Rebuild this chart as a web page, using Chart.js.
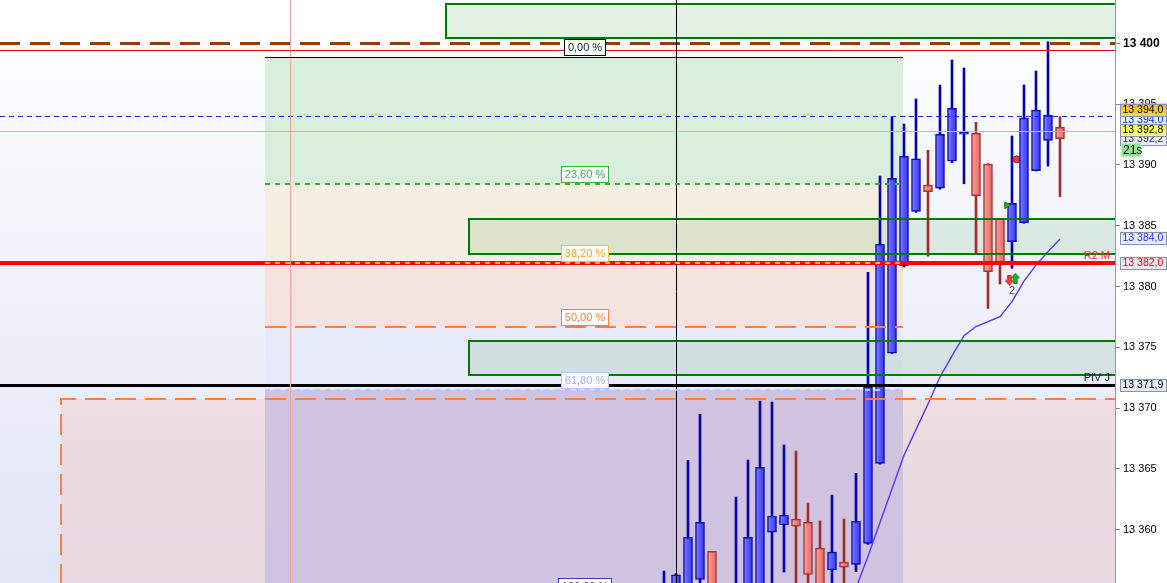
<!DOCTYPE html>
<html>
<head>
<meta charset="utf-8">
<title>Candles</title>
<script src="https://cdn.jsdelivr.net/npm/chart.js@4/dist/chart.umd.min.js"></script>
<style>
html,body{margin:0;padding:0;background:#ffffff;overflow:hidden;}
#wrap{position:relative;width:1167px;height:583px;}
</style>
</head>
<body>
<div id="wrap"><canvas id="chart"></canvas></div>
<script>
// ---------------- DATA ----------------
const candleIndex = [0,1,2,3,4,5,6,7,8,9,10,11,12,13,14,15,16,17,18,19,20,21,22,23,24,25,26,27,28,29,30,31,32,33];
const opens  = [13353.8,13355.0,13355.0,13355.92,13358.22,null,13354.5,13355.0,13355.2,13359.81,13360.39,13360.88,13360.61,13358.5,13356.69,13357.34,13357.15,13358.88,13365.46,13374.51,13381.71,13386.18,13388.35,13388.08,13390.3,13392.52,13392.6,13390.07,13385.58,13383.68,13385.25,13389.52,13392.02,13393.09];
const highs  = [13356.6,13356.4,13365.7,13369.5,13358.22,null,13362.69,13365.73,13370.58,13370.5,13366.97,13366.47,13362.2,13360.72,13362.85,13360.88,13364.64,13381.17,13389.09,13393.96,13393.36,13395.42,13391.2,13396.57,13398.63,13397.97,13393.5,13390.1,13385.6,13392.38,13396.57,13397.72,13400.13,13393.96];
const lows   = [13353.0,13354.5,13354.5,13355.0,13354.0,null,13354.0,13354.5,13354.8,13355.0,13356.52,13355.0,13355.0,13354.0,13355.0,13355.0,13356.55,13358.8,13365.4,13374.5,13381.6,13386.1,13382.5,13388.0,13390.2,13388.45,13382.75,13378.2,13380.2,13381.5,13385.2,13389.5,13389.9,13387.4];
const closes = [13355.2,13356.3,13359.37,13360.6,13354.8,null,13355.3,13359.37,13365.13,13361.13,13361.21,13360.3,13356.33,13354.5,13358.17,13356.93,13360.69,13371.76,13383.47,13388.9,13390.71,13390.49,13387.8,13392.52,13394.65,13392.68,13387.47,13381.22,13381.9,13386.84,13393.86,13394.51,13394.08,13392.15];
const maValues = [null,null,null,null,null,null,null,null,null,null,null,null,null,null,null,13352.6,13355.21,13357.81,13360.59,13363.37,13366.13,13368.23,13370.34,13372.56,13374.29,13375.95,13376.71,13377.12,13377.52,13378.76,13380.44,13381.76,13382.87,13383.91];

const yTickValues = [13360,13365,13370,13375,13380,13385,13390,13395,13400];
const yTickLabels = ["13 360","13 365","13 370","13 375","13 380","13 385","13 390","13 395","13 400"];
const xRange = [-55.333, 37.583];
const yRange = [13355.62, 13403.56];

// supply/demand zones
const zoneStart  = [-18.17, -16.25, -16.25];
const zoneTop    = [13403.23, 13385.55, 13375.52];
const zoneBottom = [13400.44, 13382.67, 13372.72];

// fibonacci retracement
const fibStart = -33.25, fibEnd = 19.92;
const fibHigh = 13398.87, fibLow = 13354.51;
const fibLevels = [0, 0.236, 0.382, 0.5, 0.618, 1];
const fibLabels = ["0,00 %","23,60 %","38,20 %","50,00 %","61,80 %","100,00 %"];
const fibLabelIndex = -6.625;

// large dashed box
const boxStart = -50.25, boxTop = 13370.77;

// horizontal levels / vertical markers
const hLineValues = [13400.0, 13399.48, 13394.0, 13392.8, 13381.97, 13371.88];
const vLineIndex = [-31.17, 1];
const levelTags = ["R2 M", "PIV J"];
const levelTagValues = [13381.97, 13371.88];

// right-axis price tags (drawn bottom-most first)
const priceTagValues = [13392.2, 13394.0, 13392.8, 13394.0, 13384.0, 13381.97, 13371.88];
const priceTagTexts  = ["13 392,2","13 394,0","13 392,8","13 394,0","13 384,0","13 382,0","13 371,9"];
const timerText = "21s";

// signal markers
const flagPoint = [{x:28.56, y:13386.68}];
const dotPoint  = [{x:29.39, y:13390.46}];
const downArrow = [{x:28.78, y:13380.53}];
const upArrow   = [{x:29.28, y:13380.67}];
const countText = "2";
const countPoint = {x:29.0, y:13379.6};

// ---------------- STYLE ----------------
const FONT = '"Liberation Sans", Arial, sans-serif';
const fibBandColors = ['#d9efdb','#f6efe2','#f4e3df','#e8ebfb','#cfc3e0'];
const fibLineStyles = [
  {c:'#000000', w:1, d:[]},
  {c:'#3cb043', w:2, d:[5,5]},
  {c:'#ffc040', w:2, d:[5,5]},
  {c:'#ff8040', w:2, d:[21,9]},
  {c:'#b4c4f8', w:2, d:[5,5]},
  {c:'#3a3ab0', w:1, d:[]}
];
const fibTextColors = ['#102040','#3cb043','#f0a820','#ff8040','#9fb2ef','#3a3ab0'];
const hLineStyles = [
  {c:'#9a3a0a', w:3, d:[20,10]},
  {c:'#dd1111', w:1, d:[]},
  {c:'#1a1aff', w:1, d:[5,4]},
  {c:'#f2a0a0', w:1, d:[]},
  {c:'#ff0000', w:4, d:[]},
  {c:'#000000', w:3, d:[]}
];
const vLineStyles = [{c:'#f2a0a0', w:1}, {c:'#000000', w:1}];
const priceTagStyles = [
  {fill:'#e6ebf5', text:'#303040', shift:0.5},
  {fill:'#e6ebf5', text:'#2020ff', shift:3.5},
  {fill:['#ffff30','#ffff90'], text:'#000000', shift:-0.5},
  {fill:['#f5b800','#ffd860'], text:'#000000', shift:-6.5},
  {fill:'#e6ebf5', text:'#3030ff', shift:0},
  {fill:'#e6ebf5', text:'#ff0000', shift:0},
  {fill:'#e6ebf5', text:'#000000', shift:0}
];

function fibPrice(l){ return fibHigh - l*(fibHigh - fibLow); }
function crisp(v, w){ return (Math.round(w) % 2 === 1) ? Math.round(v) + 0.5 : Math.round(v); }

function makeArrow(fill, stroke, down){
  const c = document.createElement('canvas'); c.width = 9; c.height = 11;
  const g = c.getContext('2d');
  g.beginPath();
  if (!down){ g.moveTo(4.5,0.5); g.lineTo(8.5,5); g.lineTo(6.2,5); g.lineTo(6.2,10.5); g.lineTo(2.8,10.5); g.lineTo(2.8,5); g.lineTo(0.5,5); }
  else { g.moveTo(4.5,10.5); g.lineTo(8.5,6); g.lineTo(6.2,6); g.lineTo(6.2,0.5); g.lineTo(2.8,0.5); g.lineTo(2.8,6); g.lineTo(0.5,6); }
  g.closePath(); g.fillStyle = fill; g.fill(); g.strokeStyle = stroke; g.lineWidth = 1; g.stroke();
  return c;
}

// ---------------- DATASETS ----------------
const bodyIdx = candleIndex.filter(i => opens[i] != null);
const bodyData = bodyIdx.map(i => ({x: candleIndex[i], y: [opens[i], closes[i]]}));
const wickData = bodyIdx.map(i => ({x: candleIndex[i], y: [lows[i], highs[i]]}));
const maData = candleIndex.filter(i => maValues[i] != null).map(i => ({x: candleIndex[i], y: maValues[i]}));
const isUp = k => closes[bodyIdx[k]] >= opens[bodyIdx[k]];

function bodyFill(c){
  if (c.type !== 'data') return '#5555ff';
  const up = isUp(c.dataIndex);
  const xs = c.chart.scales.x;
  if (!xs || !c.chart.chartArea) return up ? '#5555ff' : '#f08282';
  const px = xs.getPixelForValue(bodyData[c.dataIndex].x);
  const g = c.chart.ctx.createLinearGradient(px - 4.5, 0, px + 4.5, 0);
  if (up){ g.addColorStop(0,'#9090ff'); g.addColorStop(0.45,'#5858ff'); g.addColorStop(1,'#3a3af0'); }
  else { g.addColorStop(0,'#faaca8'); g.addColorStop(0.45,'#f08682'); g.addColorStop(1,'#e46e6a'); }
  return g;
}

// ---------------- PLUGIN ----------------
const overlays = {
  id: 'overlays',
  beforeDraw(chart){
    const {ctx, chartArea: a} = chart; const xs = chart.scales.x, ys = chart.scales.y;
    ctx.save();
    ctx.beginPath(); ctx.rect(a.left, a.top, a.right - a.left, a.bottom - a.top); ctx.clip();
    const g = ctx.createLinearGradient(0, a.top, 0, a.bottom);
    g.addColorStop(0, '#ffffff'); g.addColorStop(1, '#e1e5f6');
    ctx.fillStyle = g; ctx.fillRect(a.left, a.top, a.right - a.left, a.bottom - a.top);
    const ox = Math.round(xs.getPixelForValue(boxStart)), oy = Math.round(ys.getPixelForValue(boxTop));
    ctx.fillStyle = 'rgba(255,160,130,0.2)';
    ctx.fillRect(ox, oy, a.right - ox, a.bottom - oy);
    const fx0 = Math.round(xs.getPixelForValue(fibStart)), fx1 = Math.round(xs.getPixelForValue(fibEnd));
    for (let k = 0; k < fibLevels.length - 1; k++){
      const y0 = Math.round(ys.getPixelForValue(fibPrice(fibLevels[k])));
      const y1 = Math.round(ys.getPixelForValue(fibPrice(fibLevels[k+1])));
      ctx.fillStyle = fibBandColors[k];
      ctx.fillRect(fx0, y0, fx1 - fx0, y1 - y0);
    }
    for (let k = 0; k < zoneStart.length; k++){
      const zx = Math.round(xs.getPixelForValue(zoneStart[k]));
      const zt = Math.round(ys.getPixelForValue(zoneTop[k])), zb = Math.round(ys.getPixelForValue(zoneBottom[k]));
      ctx.fillStyle = 'rgba(0,128,0,0.1)';
      ctx.fillRect(zx, zt, a.right - zx, zb - zt);
    }
    ctx.restore();
  },
  afterDatasetsDraw(chart){
    const {ctx, chartArea: a} = chart; const xs = chart.scales.x, ys = chart.scales.y;
    ctx.save();
    ctx.beginPath(); ctx.rect(a.left, a.top, a.right - a.left, a.bottom - a.top); ctx.clip();
    ctx.setLineDash([]); ctx.strokeStyle = '#007a00'; ctx.lineWidth = 2;
    for (let k = 0; k < zoneStart.length; k++){
      const zx = Math.round(xs.getPixelForValue(zoneStart[k]));
      const zt = Math.round(ys.getPixelForValue(zoneTop[k])), zb = Math.round(ys.getPixelForValue(zoneBottom[k]));
      ctx.strokeRect(zx, zt, a.right - zx + 6, zb - zt);
    }
    const ox = Math.round(xs.getPixelForValue(boxStart)), oy = Math.round(ys.getPixelForValue(boxTop));
    ctx.strokeStyle = '#ff8040'; ctx.lineWidth = 2; ctx.setLineDash([21,9]);
    ctx.beginPath(); ctx.moveTo(ox, a.bottom + 2); ctx.lineTo(ox, oy); ctx.lineTo(a.right + 2, oy); ctx.stroke();
    hLineValues.forEach((v, k) => {
      const s = hLineStyles[k]; const y = crisp(ys.getPixelForValue(v), s.w);
      ctx.beginPath(); ctx.setLineDash(s.d); ctx.strokeStyle = s.c; ctx.lineWidth = s.w;
      ctx.moveTo(a.left, y); ctx.lineTo(a.right, y); ctx.stroke();
    });
    vLineIndex.forEach((v, k) => {
      const s = vLineStyles[k]; const x = crisp(xs.getPixelForValue(v), s.w);
      ctx.beginPath(); ctx.setLineDash([]); ctx.strokeStyle = s.c; ctx.lineWidth = s.w;
      ctx.moveTo(x, a.top); ctx.lineTo(x, a.bottom); ctx.stroke();
    });
    const fx0 = Math.round(xs.getPixelForValue(fibStart)), fx1 = Math.round(xs.getPixelForValue(fibEnd));
    fibLevels.forEach((l, k) => {
      const s = fibLineStyles[k]; const y = crisp(ys.getPixelForValue(fibPrice(l)), s.w);
      ctx.beginPath(); ctx.setLineDash(s.d); ctx.strokeStyle = s.c; ctx.lineWidth = s.w;
      ctx.moveTo(fx0, y); ctx.lineTo(fx1, y); ctx.stroke();
    });
    ctx.setLineDash([]);
    ctx.font = '11px ' + FONT; ctx.textAlign = 'center'; ctx.textBaseline = 'middle';
    const cx = xs.getPixelForValue(fibLabelIndex);
    fibLevels.forEach((l, k) => {
      const ly = Math.round(ys.getPixelForValue(fibPrice(l)));
      const tw = ctx.measureText(fibLabels[k]).width;
      const bw = Math.round(tw + 8), bx = Math.round(cx - bw / 2), by = ly - 18;
      ctx.fillStyle = '#ffffff'; ctx.fillRect(bx, by, bw, 17);
      ctx.strokeStyle = fibLineStyles[k].c; ctx.lineWidth = 1; ctx.strokeRect(bx + 0.5, by + 0.5, bw - 1, 16);
      ctx.fillStyle = fibTextColors[k]; ctx.fillText(fibLabels[k], bx + bw / 2, by + 9);
    });
    ctx.textAlign = 'right'; ctx.textBaseline = 'alphabetic'; ctx.font = '11px ' + FONT;
    const tagColors = ['#ff2a2a', '#1c1c50'];
    levelTags.forEach((t, k) => {
      const y = ys.getPixelForValue(levelTagValues[k]);
      ctx.fillStyle = tagColors[k]; ctx.fillText(t, a.right - 5, Math.round(y) - 4);
    });
    ctx.textAlign = 'center'; ctx.textBaseline = 'middle'; ctx.fillStyle = '#505060';
    ctx.fillText(countText, xs.getPixelForValue(countPoint.x), ys.getPixelForValue(countPoint.y));
    ctx.restore();
  },
  afterDraw(chart){
    const {ctx, chartArea: a} = chart; const ys = chart.scales.y;
    ctx.save();
    ctx.font = '10.5px ' + FONT; ctx.textAlign = 'left'; ctx.textBaseline = 'middle';
    const bx = a.right + 5, bw = 47, bh = 13;
    priceTagValues.forEach((v, k) => {
      const s = priceTagStyles[k];
      const cy = Math.round(ys.getPixelForValue(v) + s.shift);
      const by = cy - 6.5;
      if (Array.isArray(s.fill)){
        const g = ctx.createLinearGradient(0, by, 0, by + bh);
        g.addColorStop(0, s.fill[0]); g.addColorStop(1, s.fill[1]); ctx.fillStyle = g;
      } else ctx.fillStyle = s.fill;
      ctx.fillRect(bx, by, bw, bh);
      ctx.strokeStyle = '#8796ac'; ctx.lineWidth = 1; ctx.strokeRect(bx + 0.5, Math.round(by) + 0.5, bw - 1, bh - 1);
      ctx.fillStyle = s.text; ctx.fillText(priceTagTexts[k], bx + 2.5, cy + 0.5);
    });
    const ty = Math.round(ys.getPixelForValue(priceTagValues[0])) + 5;
    ctx.fillStyle = '#8fe88f'; ctx.fillRect(bx + 1, ty, 20, 14);
    ctx.strokeStyle = '#b8f0b8'; ctx.strokeRect(bx + 1.5, ty + 0.5, 19, 13);
    ctx.fillStyle = '#000000'; ctx.font = '12px ' + FONT; ctx.fillText(timerText, bx + 3, ty + 7.5);
    ctx.restore();
  }
};

// ---------------- CHART ----------------
const upArrowImg = makeArrow('#22b02a', '#118818', false);
const downArrowImg = makeArrow('#ee4444', '#b82020', true);

new Chart(document.getElementById('chart'), {
  type: 'bar',
  data: {
    datasets: [
      { type:'line', label:'flag', data: flagPoint, showLine:false, order:0,
        pointStyle:'triangle', rotation:90, pointRadius:4, backgroundColor:'#2aa82a', borderColor:'#1a801a', borderWidth:1 },
      { type:'line', label:'up', data: upArrow, showLine:false, order:0, pointStyle: upArrowImg },
      { type:'line', label:'down', data: downArrow, showLine:false, order:0, pointStyle: downArrowImg },
      { type:'line', label:'MA', data: maData, order:1, borderColor:'#5a36ee', borderWidth:1.4,
        pointRadius:0, tension:0, fill:false },
      { type:'bar', label:'body', data: bodyData, order:2, grouped:false, barThickness:9,
        backgroundColor: bodyFill,
        borderColor: c => (c.type === 'data' && !isUp(c.dataIndex)) ? '#a83232' : '#0a0ab4',
        borderWidth: 1.5, borderSkipped: false },
      { type:'line', label:'dot', data: dotPoint, showLine:false, order:3,
        pointStyle:'circle', pointRadius:3.5, backgroundColor:'#e03a3a', borderColor:'#c02020', borderWidth:1 },
      { type:'bar', label:'wick', data: wickData, order:4, grouped:false, barThickness:2,
        backgroundColor: c => (c.type === 'data' && !isUp(c.dataIndex)) ? '#a02c2c' : '#0606a8',
        borderWidth: 0 }
    ]
  },
  options: {
    responsive: true, maintainAspectRatio: false, animation: false, devicePixelRatio: 1,
    events: [],
    layout: { padding: 0, autoPadding: false },
    plugins: { legend: { display:false }, tooltip: { enabled:false }, title: { display:false } },
    scales: {
      x: { type:'linear', min:xRange[0], max:xRange[1], display:false, offset:false,
           afterBuildTicks: s => { s.ticks = candleIndex.map(v => ({value:v})); } },
      y: { type:'linear', position:'right', min:yRange[0], max:yRange[1], bounds:'data', beginAtZero:false,
           afterBuildTicks: s => { s.ticks = yTickValues.map(v => ({value:v})); },
           afterFit: s => { s.width = 52; s.paddingTop = 0; s.paddingBottom = 0; },
           ticks: {
             autoSkip:false, maxRotation:0, padding:3, color:'#000000',
             callback: (v) => { const k = yTickValues.indexOf(v); return k >= 0 ? yTickLabels[k] : ''; },
             font: c => ({ family: FONT, size: (c.tick && c.tick.value === 13400) ? 12 : 11,
                           weight: (c.tick && c.tick.value === 13400) ? 'bold' : 'normal' })
           },
           grid: { drawOnChartArea:false, drawTicks:true, tickLength:5, color:'#7d8a98' },
           border: { display:true, color:'#8f9bab', width:1 }
      }
    }
  },
  plugins: [overlays]
});
</script>
</body>
</html>
